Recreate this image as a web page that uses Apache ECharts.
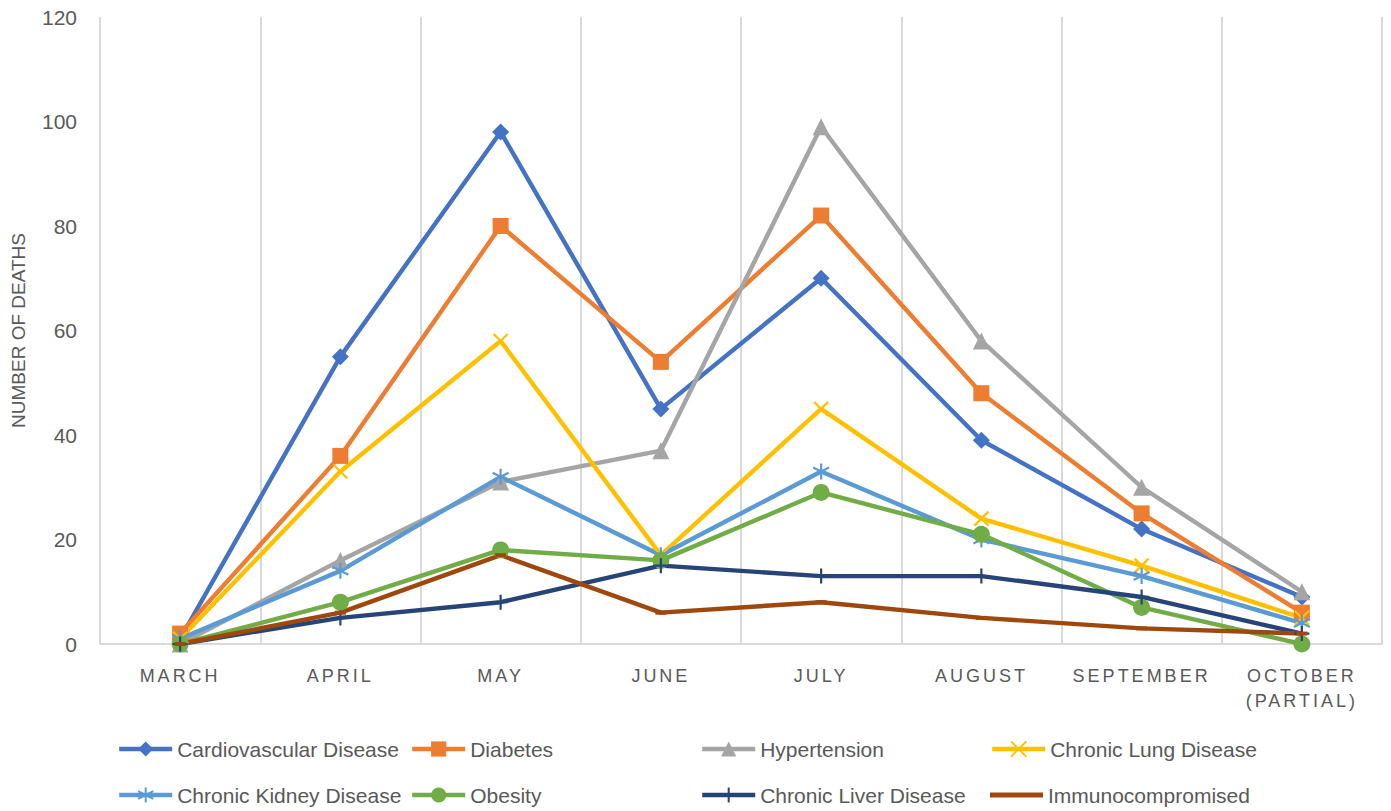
<!DOCTYPE html>
<html>
<head>
<meta charset="utf-8">
<script src="https://cdn.jsdelivr.net/npm/echarts@6/dist/echarts.min.js"></script>
<style>
html,body{margin:0;padding:0;background:#fff;}
#chart{width:1391px;height:811px;}
</style>
</head>
<body>
<div id="chart"></div>
<script>
// ---- data ----
const categories = ['MARCH', 'APRIL', 'MAY', 'JUNE', 'JULY', 'AUGUST', 'SEPTEMBER', 'OCTOBER\n(PARTIAL)'];
const cardiovascular = [1, 55, 98, 45, 70, 39, 22, 9];
const diabetes = [2, 36, 80, 54, 82, 48, 25, 6];
const hypertension = [0, 16, 31, 37, 99, 58, 30, 10];
const chronicLung = [1, 33, 58, 17, 45, 24, 15, 5];
const chronicKidney = [1, 14, 32, 17, 33, 20, 13, 4];
const obesity = [0, 8, 18, 16, 29, 21, 7, 0];
const chronicLiver = [0, 5, 8, 15, 13, 13, 9, 2];
const immunocompromised = [0, 6, 17, 6, 8, 5, 3, 2];
const yTicks = [0, 20, 40, 60, 80, 100, 120];
const yAxisTitle = 'NUMBER OF DEATHS';

const seriesNames = ['Cardiovascular Disease', 'Diabetes', 'Hypertension', 'Chronic Lung Disease',
  'Chronic Kidney Disease', 'Obesity', 'Chronic Liver Disease', 'Immunocompromised'];
const seriesData = [cardiovascular, diabetes, hypertension, chronicLung, chronicKidney, obesity, chronicLiver, immunocompromised];

// ---- styles ----
const colors = ['#4472C4', '#ED7D31', '#A5A5A5', '#FFC000', '#5B9BD5', '#70AD47', '#264478', '#9E480E'];
const TXT = '#595959';
const FONT = '"Liberation Sans", Arial, sans-serif';
const symbols = [
  {symbol: 'diamond', size: 17, stroke: false},
  {symbol: 'rect', size: 16, stroke: false},
  {symbol: 'triangle', size: 17, stroke: false},
  {symbol: 'path://M0,0L10,10M10,0L0,10', size: 14, stroke: true},
  {symbol: 'path://M5,0L5,10M0.7,2.5L9.3,7.5M0.7,7.5L9.3,2.5', size: 16, stroke: true},
  {symbol: 'circle', size: 17, stroke: false},
  {symbol: 'path://M5,0L5,10M0,5L10,5', size: 15, stroke: true},
  {symbol: 'rect', size: [11, 4], stroke: false}
];

const series = seriesNames.map((name, i) => {
  const s = symbols[i];
  return {
    name: name,
    type: 'line',
    data: seriesData[i],
    symbol: s.symbol,
    symbolSize: s.size,
    showAllSymbol: true,
    lineStyle: {color: colors[i], width: 4.4},
    itemStyle: s.stroke
      ? {color: 'rgba(0,0,0,0)', borderColor: colors[i], borderWidth: 2.2}
      : {color: colors[i], borderWidth: 0},
    emphasis: {disabled: true},
    z: 2
  };
});

const legendLefts = [117, 410, 700, 990, 117, 410, 700, 990];
const legendTops = [737, 737, 737, 737, 783, 783, 783, 783];
const legends = seriesNames.map((name, i) => {
  const isDash = i === 7;
  return {
    left: legendLefts[i],
    top: legendTops[i],
    padding: 0,
    itemWidth: 53,
    itemHeight: isDash ? 5 : 19,
    selectedMode: false,
    lineStyle: {width: 4.4},
    data: isDash ? [{name: name, icon: 'rect', itemStyle: {color: colors[i], borderWidth: 0}}] : [name],
    textStyle: {color: TXT, fontSize: 21, fontFamily: FONT, lineHeight: 24}
  };
});

const chart = echarts.init(document.getElementById('chart'), null, {renderer: 'svg'});
chart.setOption({
  animation: false,
  backgroundColor: '#ffffff',
  textStyle: {fontFamily: FONT},
  grid: {left: 100, right: 9, top: 17, bottom: 167},
  legend: legends,
  xAxis: {
    type: 'category',
    data: categories,
    boundaryGap: true,
    axisLine: {show: true, lineStyle: {color: '#d9d9d9', width: 2}},
    axisTick: {show: false},
    splitLine: {show: true, interval: 0, lineStyle: {color: '#d9d9d9', width: 2}},
    axisLabel: {color: TXT, fontSize: 18, fontFamily: FONT, margin: 19, lineHeight: 25, interval: 0}
  },
  yAxis: {
    type: 'value',
    min: yTicks[0],
    max: yTicks[yTicks.length - 1],
    interval: yTicks[1] - yTicks[0],
    name: yAxisTitle,
    nameLocation: 'middle',
    nameGap: 72,
    nameTextStyle: {color: TXT, fontSize: 19, fontFamily: FONT},
    axisLine: {show: false},
    axisTick: {show: false},
    splitLine: {show: false},
    axisLabel: {color: TXT, fontSize: 21, fontFamily: FONT, margin: 23}
  },
  series: series
});

// letter-spaced category labels (as in the original)
function spaceLabels() {
  const set = new Set(['MARCH', 'APRIL', 'MAY', 'JUNE', 'JULY', 'AUGUST', 'SEPTEMBER', 'OCTOBER', '(PARTIAL)']);
  document.querySelectorAll('#chart text').forEach(t => {
    if (set.has(t.textContent.trim())) {
      t.setAttribute('letter-spacing', '3');
      t.style.letterSpacing = '3px';
    }
  });
}
chart.on('finished', spaceLabels);
setTimeout(spaceLabels, 50);
setTimeout(spaceLabels, 300);
</script>
</body>
</html>
